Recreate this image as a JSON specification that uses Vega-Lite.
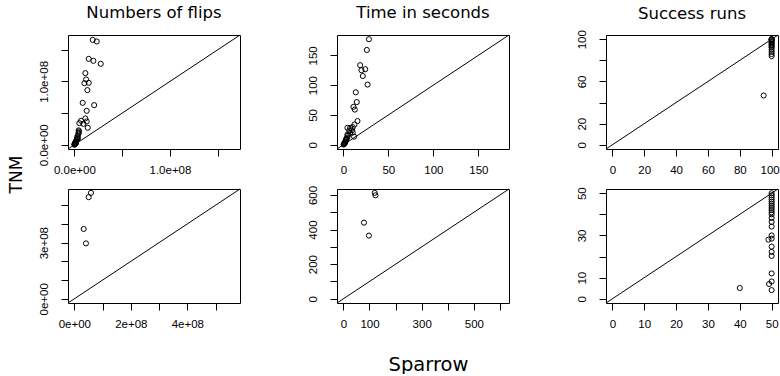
{
  "$schema": "https://vega.github.io/schema/vega-lite/v6.json",
  "padding": {"left": 6, "top": 4, "right": 0, "bottom": 0},
  "datasets": {
    "p1": [
      {"x": 19200000, "y": 165600000}, {"x": 23400000, "y": 163100000}, {"x": 15000000, "y": 135600000},
      {"x": 19900000, "y": 132500000}, {"x": 27600000, "y": 127800000}, {"x": 11500000, "y": 113100000},
      {"x": 12300000, "y": 103100000}, {"x": 10500000, "y": 97300000}, {"x": 15000000, "y": 97800000},
      {"x": 13600000, "y": 86300000}, {"x": 8700000, "y": 66200000}, {"x": 20700000, "y": 62600000},
      {"x": 12900000, "y": 53600000}, {"x": 7000000, "y": 37900000}, {"x": 11500000, "y": 41600000},
      {"x": 12900000, "y": 36900000}, {"x": 9400000, "y": 33100000}, {"x": 5200000, "y": 34200000},
      {"x": 14000000, "y": 26800000}, {"x": 4500000, "y": 22700000}, {"x": 4800000, "y": 21000000},
      {"x": 4200000, "y": 17500000}, {"x": 3500000, "y": 14000000}, {"x": 3000000, "y": 12000000},
      {"x": 3800000, "y": 10000000}, {"x": 2800000, "y": 9000000}, {"x": 2500000, "y": 8000000},
      {"x": 2000000, "y": 6000000}, {"x": 1500000, "y": 5000000}, {"x": 1200000, "y": 4000000},
      {"x": 1000000, "y": 3000000}, {"x": 500000, "y": 2000000}, {"x": 800000, "y": 1500000},
      {"x": 300000, "y": 1000000}, {"x": 200000, "y": 500000}, {"x": 100000, "y": 200000},
      {"x": 4600000, "y": 19000000}, {"x": 1800000, "y": 2500000}
    ],
    "p2": [
      {"x": 28.4, "y": 177}, {"x": 26.1, "y": 159}, {"x": 18.7, "y": 133.5}, {"x": 20.1, "y": 125},
      {"x": 24.3, "y": 126.7}, {"x": 21.6, "y": 115.3}, {"x": 26.9, "y": 101}, {"x": 13.8, "y": 88},
      {"x": 14.9, "y": 71.6}, {"x": 11.2, "y": 63.6}, {"x": 12.7, "y": 59}, {"x": 15.7, "y": 39.8},
      {"x": 12.3, "y": 34}, {"x": 4.5, "y": 28.4}, {"x": 7.5, "y": 28.4}, {"x": 10.4, "y": 29.5},
      {"x": 9.7, "y": 24.4}, {"x": 7.5, "y": 19.9}, {"x": 10.4, "y": 20.5}, {"x": 4.5, "y": 17},
      {"x": 11.9, "y": 13.6}, {"x": 5, "y": 15}, {"x": 4, "y": 12}, {"x": 3.5, "y": 10},
      {"x": 3, "y": 8}, {"x": 2.5, "y": 6}, {"x": 2, "y": 5}, {"x": 1.5, "y": 3},
      {"x": 1, "y": 2}, {"x": 0.5, "y": 1}, {"x": 0.3, "y": 0.5}, {"x": 6.5, "y": 24},
      {"x": 2, "y": 3.5}, {"x": 3, "y": 9}
    ],
    "p3": [
      {"x": 100, "y": 100}, {"x": 100, "y": 100}, {"x": 100, "y": 100}, {"x": 100, "y": 99},
      {"x": 100, "y": 98}, {"x": 100, "y": 97}, {"x": 100, "y": 96}, {"x": 100, "y": 95},
      {"x": 100, "y": 94}, {"x": 100, "y": 93}, {"x": 100, "y": 92}, {"x": 100, "y": 90},
      {"x": 100, "y": 88}, {"x": 100, "y": 86}, {"x": 100, "y": 84}, {"x": 95, "y": 46.7}
    ],
    "p4": [
      {"x": 58800000, "y": 566000000}, {"x": 50600000, "y": 543000000},
      {"x": 33000000, "y": 373000000}, {"x": 41000000, "y": 296000000}
    ],
    "p5": [
      {"x": 120, "y": 612}, {"x": 123, "y": 598}, {"x": 78.8, "y": 440}, {"x": 97.8, "y": 365}
    ],
    "p6": [
      {"x": 40, "y": 5.1}, {"x": 49.2, "y": 7}, {"x": 50, "y": 4.1}, {"x": 50, "y": 8.2},
      {"x": 50, "y": 12}, {"x": 50, "y": 20.3}, {"x": 50, "y": 22.2}, {"x": 50, "y": 24.7},
      {"x": 49, "y": 28}, {"x": 50, "y": 28.5}, {"x": 50, "y": 30}, {"x": 50, "y": 34.2},
      {"x": 50, "y": 36.4}, {"x": 50, "y": 38.3}, {"x": 50, "y": 40}, {"x": 50, "y": 41},
      {"x": 50, "y": 42}, {"x": 50, "y": 43}, {"x": 50, "y": 44}, {"x": 50, "y": 45},
      {"x": 50, "y": 46}, {"x": 50, "y": 47}, {"x": 50, "y": 48}, {"x": 50, "y": 49}, {"x": 50, "y": 50}
    ],
    "d1": [{"x": -6670000, "y": -6670000, "x2": 173300000, "y2": 173300000}],
    "d2": [{"x": -7.08, "y": -7.08, "x2": 184.08, "y2": 184.08}],
    "d3": [{"x": -4, "y": -4, "x2": 104, "y2": 104}],
    "d4": [{"x": -22560000, "y": -22560000, "x2": 586600000, "y2": 586600000}],
    "d5": [{"x": -24.4, "y": -24.4, "x2": 634.4, "y2": 634.4}],
    "d6": [{"x": -2, "y": -2, "x2": 52, "y2": 52}]
  },
  "columns": 3,
  "spacing": {"row": 40, "column": 97},
  "bounds": "flush",
  "concat": [
    {
      "width": 172, "height": 114, "title": "Numbers of flips",
      "layer": [
        {"data": {"name": "p1"}, "mark": {"type": "point", "shape": "circle", "filled": false, "color": "black", "size": 26, "strokeWidth": 1, "opacity": 1},
         "encoding": {
           "x": {"field": "x", "type": "quantitative", "title": null, "scale": {"domain": [-6670000, 173300000], "nice": false, "zero": false},
                 "axis": {"tickCount": 20, "labelOverlap": false, "values": [0, 50000000, 100000000, 150000000], "labelExpr": "datum.value == 0 ? '0.0e+00' : (datum.value == 100000000 ? '1.0e+08' : '')"}},
           "y": {"field": "y", "type": "quantitative", "title": "TNM", "scale": {"domain": [-6670000, 173300000], "nice": false, "zero": false},
                 "axis": {"tickCount": 20, "labelOverlap": false, "values": [0, 50000000, 100000000, 150000000], "labelExpr": "datum.value == 0 ? '0.0e+00' : (datum.value == 100000000 ? '1.0e+08' : '')",
                          "titleX": -47, "titleY": 139, "titleAngle": -90, "titleAlign": "center", "titleBaseline": "alphabetic",
                          "titleFont": "DejaVu Sans", "titleFontSize": 17, "titleFontWeight": "normal", "titleColor": "black"}}
         }},
        {"data": {"name": "d1"}, "mark": {"type": "rule", "color": "black", "strokeWidth": 1},
         "encoding": {"x": {"field": "x", "type": "quantitative"}, "y": {"field": "y", "type": "quantitative"}, "x2": {"field": "x2"}, "y2": {"field": "y2"}}}
      ]
    },
    {
      "width": 172, "height": 114, "title": "Time in seconds",
      "layer": [
        {"data": {"name": "p2"}, "mark": {"type": "point", "shape": "circle", "filled": false, "color": "black", "size": 26, "strokeWidth": 1, "opacity": 1},
         "encoding": {
           "x": {"field": "x", "type": "quantitative", "title": null, "scale": {"domain": [-7.08, 184.08], "nice": false, "zero": false},
                 "axis": {"tickCount": 20, "labelOverlap": false, "values": [0, 50, 100, 150]}},
           "y": {"field": "y", "type": "quantitative", "title": null, "scale": {"domain": [-7.08, 184.08], "nice": false, "zero": false},
                 "axis": {"tickCount": 20, "labelOverlap": false, "values": [0, 50, 100, 150]}}
         }},
        {"data": {"name": "d2"}, "mark": {"type": "rule", "color": "black", "strokeWidth": 1},
         "encoding": {"x": {"field": "x", "type": "quantitative"}, "y": {"field": "y", "type": "quantitative"}, "x2": {"field": "x2"}, "y2": {"field": "y2"}}}
      ]
    },
    {
      "width": 172, "height": 114, "title": {"text": "Success runs", "offset": 7},
      "layer": [
        {"data": {"name": "p3"}, "mark": {"type": "point", "shape": "circle", "filled": false, "color": "black", "size": 26, "strokeWidth": 1, "opacity": 1},
         "encoding": {
           "x": {"field": "x", "type": "quantitative", "title": null, "scale": {"domain": [-4, 104], "nice": false, "zero": false},
                 "axis": {"tickCount": 20, "labelOverlap": false, "values": [0, 20, 40, 60, 80, 100], "labelOffset": {"expr": "datum.value == 100 ? -2 : 0"}}},
           "y": {"field": "y", "type": "quantitative", "title": null, "scale": {"domain": [-4, 104], "nice": false, "zero": false},
                 "axis": {"tickCount": 20, "labelOverlap": false, "values": [0, 20, 40, 60, 80, 100], "labelExpr": "datum.value == 40 || datum.value == 80 ? '' : datum.label"}}
         }},
        {"data": {"name": "d3"}, "mark": {"type": "rule", "color": "black", "strokeWidth": 1},
         "encoding": {"x": {"field": "x", "type": "quantitative"}, "y": {"field": "y", "type": "quantitative"}, "x2": {"field": "x2"}, "y2": {"field": "y2"}}}
      ]
    },
    {
      "width": 172, "height": 114,
      "layer": [
        {"data": {"name": "p4"}, "mark": {"type": "point", "shape": "circle", "filled": false, "color": "black", "size": 26, "strokeWidth": 1, "opacity": 1},
         "encoding": {
           "x": {"field": "x", "type": "quantitative", "title": null, "scale": {"domain": [-22560000, 586600000], "nice": false, "zero": false},
                 "axis": {"tickCount": 20, "labelOverlap": false, "values": [0, 100000000, 200000000, 300000000, 400000000, 500000000], "labelExpr": "datum.value == 0 ? '0e+00' : (datum.value == 200000000 ? '2e+08' : (datum.value == 400000000 ? '4e+08' : ''))"}},
           "y": {"field": "y", "type": "quantitative", "title": null, "scale": {"domain": [-22560000, 586600000], "nice": false, "zero": false},
                 "axis": {"tickCount": 20, "labelOverlap": false, "values": [0, 100000000, 200000000, 300000000, 400000000, 500000000], "labelExpr": "datum.value == 0 ? '0e+00' : (datum.value == 300000000 ? '3e+08' : '')"}}
         }},
        {"data": {"name": "d4"}, "mark": {"type": "rule", "color": "black", "strokeWidth": 1},
         "encoding": {"x": {"field": "x", "type": "quantitative"}, "y": {"field": "y", "type": "quantitative"}, "x2": {"field": "x2"}, "y2": {"field": "y2"}}}
      ]
    },
    {
      "width": 172, "height": 114,
      "layer": [
        {"data": {"name": "p5"}, "mark": {"type": "point", "shape": "circle", "filled": false, "color": "black", "size": 26, "strokeWidth": 1, "opacity": 1},
         "encoding": {
           "x": {"field": "x", "type": "quantitative", "title": "Sparrow", "scale": {"domain": [-24.4, 634.4], "nice": false, "zero": false},
                 "axis": {"tickCount": 20, "labelOverlap": false, "values": [0, 100, 200, 300, 400, 500, 600], "labelExpr": "datum.value == 200 || datum.value == 400 || datum.value == 600 ? '' : datum.label",
                          "titleX": 91, "titleY": 67, "titleAlign": "center", "titleBaseline": "alphabetic",
                          "titleFont": "DejaVu Sans", "titleFontSize": 19.5, "titleFontWeight": "normal", "titleColor": "black"}},
           "y": {"field": "y", "type": "quantitative", "title": null, "scale": {"domain": [-24.4, 634.4], "nice": false, "zero": false},
                 "axis": {"tickCount": 20, "labelOverlap": false, "values": [0, 100, 200, 300, 400, 500, 600], "labelExpr": "datum.value == 100 || datum.value == 300 || datum.value == 500 ? '' : datum.label"}}
         }},
        {"data": {"name": "d5"}, "mark": {"type": "rule", "color": "black", "strokeWidth": 1},
         "encoding": {"x": {"field": "x", "type": "quantitative"}, "y": {"field": "y", "type": "quantitative"}, "x2": {"field": "x2"}, "y2": {"field": "y2"}}}
      ]
    },
    {
      "width": 172, "height": 114,
      "layer": [
        {"data": {"name": "p6"}, "mark": {"type": "point", "shape": "circle", "filled": false, "color": "black", "size": 26, "strokeWidth": 1, "opacity": 1},
         "encoding": {
           "x": {"field": "x", "type": "quantitative", "title": null, "scale": {"domain": [-2, 52], "nice": false, "zero": false},
                 "axis": {"tickCount": 20, "labelOverlap": false, "values": [0, 10, 20, 30, 40, 50]}},
           "y": {"field": "y", "type": "quantitative", "title": null, "scale": {"domain": [-2, 52], "nice": false, "zero": false},
                 "axis": {"tickCount": 20, "labelOverlap": false, "values": [0, 10, 20, 30, 40, 50], "labelExpr": "datum.value == 20 || datum.value == 40 ? '' : datum.label"}}
         }},
        {"data": {"name": "d6"}, "mark": {"type": "rule", "color": "black", "strokeWidth": 1},
         "encoding": {"x": {"field": "x", "type": "quantitative"}, "y": {"field": "y", "type": "quantitative"}, "x2": {"field": "x2"}, "y2": {"field": "y2"}}}
      ]
    }
  ],
  "config": {
    "background": "white",
    "view": {"stroke": "black", "strokeWidth": 1},
    "axis": {"domain": false, "grid": false, "ticks": true, "tickColor": "black", "tickSize": 7, "tickWidth": 1,
             "labelColor": "black", "labelFont": "Liberation Sans", "labelFontSize": 11.5, "labelPadding": 8,
             "labelOverlap": false, "labelFlush": false, "labelBound": false},
    "axisY": {"labelAngle": -90, "labelAlign": "center", "labelBaseline": "bottom", "labelPadding": 12},
    "title": {"font": "DejaVu Sans", "fontSize": 16.5, "fontWeight": "normal", "frame": "group", "baseline": "alphabetic", "offset": 13, "color": "black"}
  }
}
